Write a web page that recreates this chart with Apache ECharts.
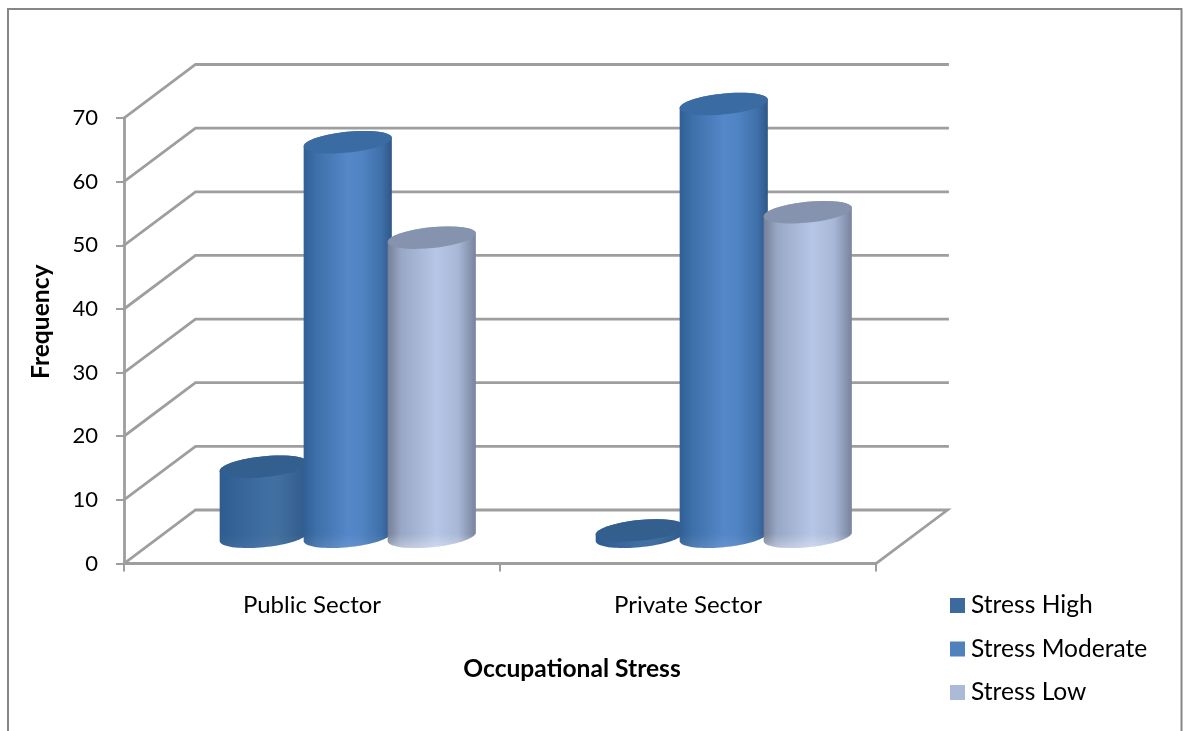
<!DOCTYPE html>
<html>
<head>
<meta charset="utf-8">
<style>html,body{margin:0;padding:0;background:#fff}#chart{width:1183px;height:731px}</style>
<script src="https://cdn.jsdelivr.net/npm/echarts@6/dist/echarts.min.js"></script>
</head>
<body>
<div id="chart"></div>
<script>
// Occupational stress frequency by sector
const categories = ['Public Sector', 'Private Sector'];
const stressHigh = [11, 1];
const stressModerate = [62, 68];
const stressLow = [47, 51];
const frequencyTicks = [0, 10, 20, 30, 40, 50, 60, 70];

const FONT = 'Lato, "Open Sans", sans-serif';
const GREY = '#9e9e9e';
// Oblique projection of the chart box: how far the back wall sits from the front plane
const DEPTH_X = 71.5, DEPTH_Y = -53.5;
const BAR_STEP = 84, A = 44.3, B = 10.4, TILT = -5.8 * Math.PI / 180;

function halfEllipse(cx, cy, from, to) {
  const pts = [], n = 40, c = Math.cos(TILT), s = Math.sin(TILT);
  for (let i = 0; i <= n; i++) {
    const t = from + (to - from) * i / n;
    const ex = A * Math.cos(t), ey = B * Math.sin(t);
    pts.push([cx + ex * c - ey * s, cy + ex * s + ey * c]);
  }
  return pts;
}

function cylinder(slot, palette) {
  return function (params, api) {
    const cat = api.value(0), val = api.value(1);
    const base = api.coord([cat, 0]), top = api.coord([cat, val]);
    const cx = base[0] + DEPTH_X / 2 + slot * BAR_STEP;
    const by = base[1] + DEPTH_Y / 2, ty = top[1] + DEPTH_Y / 2;
    // parameter of the silhouette points on the tilted ellipse
    const t0 = Math.atan2(-B * Math.sin(TILT), A * Math.cos(TILT));
    const upper = halfEllipse(cx, ty, Math.PI + t0, 2 * Math.PI + t0);
    const lower = halfEllipse(cx, by, t0, Math.PI + t0);
    const whole = halfEllipse(cx, ty, 0, 2 * Math.PI);
    const children = [
      { type: 'polygon', shape: { points: upper.concat(lower) }, style: {
          fill: { type: 'linear', x: 0, y: 0, x2: 1, y2: 0, colorStops: palette.side } } }
    ];
    // soft reflection where the cylinder meets the floor
    if (by - ty > 24) {
      const rim = lower.map(p => [p[0], p[1] - 16]).reverse();
      children.push({ type: 'polygon', shape: { points: lower.concat(rim) }, style: {
        fill: { type: 'linear', x: 0, y: 0, x2: 0, y2: 1, colorStops: [
          { offset: 0, color: 'rgba(255,255,255,0)' },
          { offset: 0.55, color: 'rgba(255,255,255,0)' },
          { offset: 1, color: 'rgba(255,255,255,' + palette.glow + ')' }] } } });
    }
    children.push({ type: 'polygon', shape: { points: whole }, style: { fill: palette.top } });
    return { type: 'group', children };
  };
}

const palettes = {
  high: { top: '#335f8f', glow: 0.05, side: [
    { offset: 0, color: '#2f5c90' }, { offset: 0.5, color: '#3f6ea3' },
    { offset: 0.65, color: '#41709f' }, { offset: 1, color: '#305a8b' }] },
  moderate: { top: '#3a6ba3', glow: 0.1, side: [
    { offset: 0, color: '#2f5f95' }, { offset: 0.15, color: '#3e70aa' },
    { offset: 0.5, color: '#5587c9' }, { offset: 0.65, color: '#5184c4' },
    { offset: 0.88, color: '#3f70a9' }, { offset: 1, color: '#2f5787' }] },
  low: { top: '#8593af', glow: 0.35, side: [
    { offset: 0, color: '#757f97' }, { offset: 0.15, color: '#98a7c5' },
    { offset: 0.55, color: '#b6c6e6' }, { offset: 0.8, color: '#a8b7d6' },
    { offset: 1, color: '#78839d' }] }
};

function bars(name, values, slot, palette, legendColor) {
  return {
    name, type: 'custom', coordinateSystem: 'cartesian2d', z: 3,
    itemStyle: { color: legendColor },
    encode: { x: 0, y: 1 },
    renderItem: cylinder(slot, palette),
    data: values.map((v, i) => [i, v])
  };
}

const chart = echarts.init(document.getElementById('chart'), null, { renderer: 'canvas' });
chart.setOption({
  animation: false,
  backgroundColor: '#fff',
  graphic: [{
    type: 'rect', z: 0, silent: true,
    shape: { x: 8, y: 9, width: 1173.5, height: 800 },
    style: { fill: 'none', stroke: '#868686', lineWidth: 2 }
  }],
  grid: { left: 124, top: 118, width: 752, height: 445.5 },
  legend: {
    orient: 'vertical', left: 950, top: 593, padding: 0, itemWidth: 15, itemHeight: 15, itemGap: 18.5,
    icon: 'rect', selectedMode: false,
    data: ['Stress High', 'Stress Moderate', 'Stress Low'],
    textStyle: { fontFamily: FONT, fontSize: 24.6, color: '#000', padding: [0, 0, 0, 1] }
  },
  xAxis: {
    type: 'category', data: categories,
    name: 'Occupational Stress', nameLocation: 'middle', nameGap: 93,
    nameTextStyle: { fontFamily: FONT, fontSize: 24.6, fontWeight: 'bold', color: '#000', padding: [0, 0, 0, 144] },
    axisLine: { lineStyle: { color: GREY, width: 2.8 } },
    axisTick: { show: true, length: 8, lineStyle: { color: GREY, width: 2 } },
    axisLabel: { fontFamily: FONT, fontSize: 24, color: '#000', margin: 30 },
    splitLine: { show: false }
  },
  yAxis: {
    type: 'value', min: 0, max: 70, interval: 10,
    name: 'Frequency', nameLocation: 'middle', nameGap: 70,
    nameTextStyle: { fontFamily: FONT, fontSize: 24.6, fontWeight: 'bold', color: '#000', padding: [0, 0, 0, 38] },
    axisLine: { show: true, lineStyle: { color: GREY, width: 2.8 } },
    axisTick: { show: true, length: 8, lineStyle: { color: GREY, width: 2 } },
    axisLabel: { fontFamily: FONT, fontSize: 22, color: '#000', margin: 26 },
    splitLine: { show: false }
  },
  series: [
    {
      name: 'walls', type: 'custom', silent: true, z: 1,
      encode: { y: 0 },
      renderItem(params, api) {
        const v = api.value(0), sys = params.coordSys;
        const y = api.coord([0, v])[1];
        const pts = [[sys.x, y], [sys.x + DEPTH_X, y + DEPTH_Y], [sys.x + sys.width + DEPTH_X, y + DEPTH_Y]];
        if (v === 0) pts.push([sys.x + sys.width, y]);
        return { type: 'polyline', shape: { points: pts },
          style: { fill: 'none', stroke: GREY, lineWidth: 2.8, lineCap: 'square' } };
      },
      data: frequencyTicks.map(v => [v])
    },
    bars('Stress High', stressHigh, -1, palettes.high, '#3d6a9d'),
    bars('Stress Moderate', stressModerate, 0, palettes.moderate, '#4f81bd'),
    bars('Stress Low', stressLow, 1, palettes.low, '#aabad7')
  ]
});
</script>
</body>
</html>
